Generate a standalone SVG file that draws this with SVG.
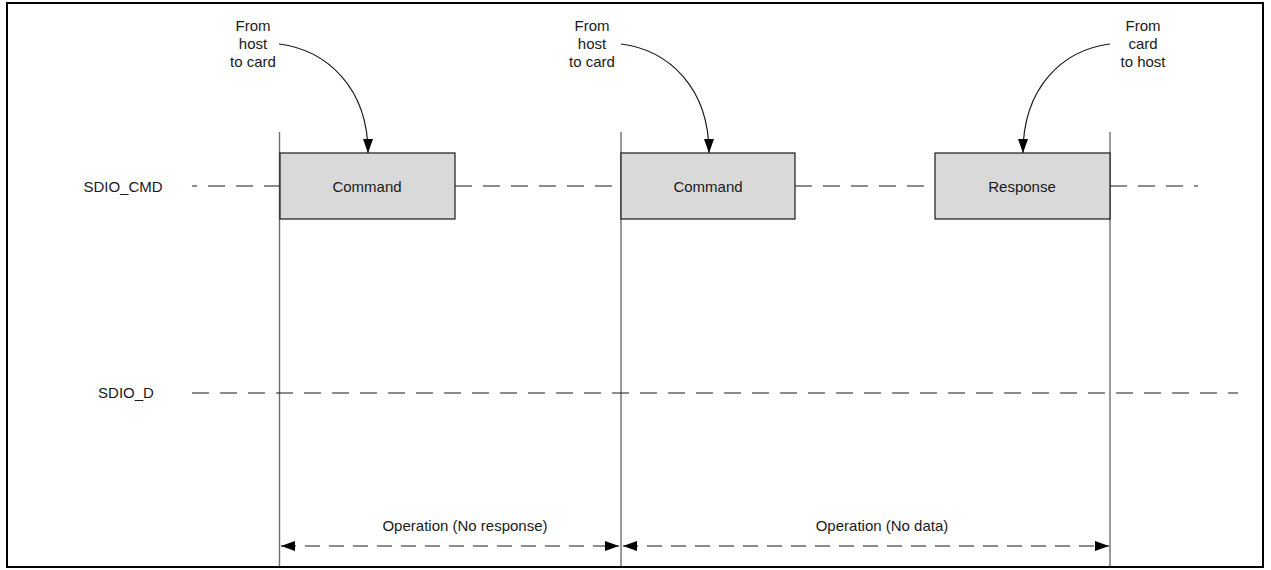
<svg xmlns="http://www.w3.org/2000/svg" width="1271" height="570" viewBox="0 0 1271 570">
<style>
text{font-family:"Liberation Sans",Arial,sans-serif;font-size:15px;fill:#1a1a1a}
.c{text-anchor:middle}
.box{fill:#d9d9d9;stroke:#1a1a1a;stroke-width:1.2}
.vl{stroke:#6e6e6e;stroke-width:1.4;fill:none}
.dash{stroke:#1a1a1a;stroke-width:1.2;stroke-dasharray:17 11;fill:none}
.curve{stroke:#1a1a1a;stroke-width:1.2;fill:none;marker-end:url(#ah)}
.dim{stroke:#1a1a1a;stroke-width:1.2;stroke-dasharray:15 9;fill:none;marker-start:url(#ahs);marker-end:url(#ah)}
</style>
<defs>
<marker id="ah" viewBox="0 0 14 10" refX="14" refY="5" markerWidth="14" markerHeight="10" markerUnits="userSpaceOnUse" orient="auto">
<path d="M0,0 L14,5 L0,10 z" fill="#000"/>
</marker>
<marker id="ahs" viewBox="0 0 14 10" refX="0" refY="5" markerWidth="14" markerHeight="10" markerUnits="userSpaceOnUse" orient="auto">
<path d="M14,0 L0,5 L14,10 z" fill="#000"/>
</marker>
</defs>
<rect x="7" y="3" width="1256" height="564" fill="#fff" stroke="#000" stroke-width="2"/>
<g id="signal-labels">
<text x="123" y="192" class="c">SDIO_CMD</text>
<text x="126" y="398" class="c">SDIO_D</text>
</g>
<g id="connectors">
<line class="vl" x1="279.5" y1="132" x2="279.5" y2="566"/>
<line class="vl" x1="621" y1="132" x2="621" y2="566"/>
<line class="vl" x1="1110" y1="132" x2="1110" y2="566"/>
<line class="dash" x1="192" y1="186" x2="279" y2="186" stroke-dashoffset="12"/>
<line class="dash" x1="455" y1="186" x2="621" y2="186" stroke-dasharray="18 10"/>
<line class="dash" x1="795" y1="186" x2="935" y2="186" stroke-dasharray="18 10"/>
<line class="dash" x1="1110" y1="186" x2="1198" y2="186" stroke-dasharray="18 10"/>
<line class="dash" x1="192" y1="393" x2="1238" y2="393"/>
<path class="curve" d="M279,44 C327,50 368,88 368,153"/>
<path class="curve" d="M621,44 C669,50 709,88 709,153"/>
<path class="curve" d="M1110,44 C1062,50 1023,88 1023,153"/>
<path class="dim" d="M281,546 L619,546"/>
<path class="dim" d="M623,546 L1109,546"/>
</g>
<g id="note-1">
<text x="253" y="31" class="c">From</text>
<text x="253" y="49" class="c">host</text>
<text x="253" y="67" class="c">to card</text>
</g>
<g id="note-2">
<text x="592" y="31" class="c">From</text>
<text x="592" y="49" class="c">host</text>
<text x="592" y="67" class="c">to card</text>
</g>
<g id="note-3">
<text x="1143" y="31" class="c">From</text>
<text x="1143" y="49" class="c">card</text>
<text x="1143" y="67" class="c">to host</text>
</g>
<g id="command-1">
<rect class="box" x="280" y="153" width="175" height="66"/>
<text x="367" y="192" class="c">Command</text>
</g>
<g id="command-2">
<rect class="box" x="621" y="153" width="174" height="66"/>
<text x="708" y="192" class="c">Command</text>
</g>
<g id="response">
<rect class="box" x="935" y="153" width="175" height="66"/>
<text x="1022" y="192" class="c">Response</text>
</g>
<g id="op-labels">
<text x="465" y="531" class="c">Operation (No response)</text>
<text x="882" y="531" class="c">Operation (No data)</text>
</g>
</svg>
